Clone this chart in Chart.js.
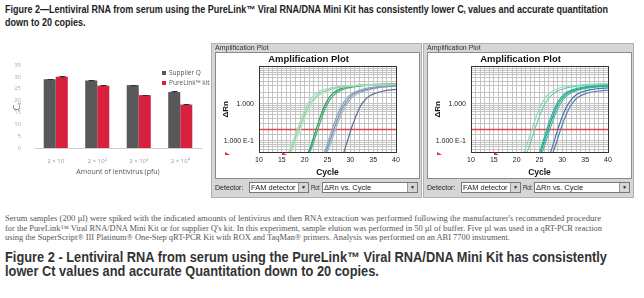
<!DOCTYPE html>
<html>
<head>
<meta charset="utf-8">
<script src="https://cdn.jsdelivr.net/npm/chart.js@4.4.1/dist/chart.umd.min.js"></script>
<style>
	html, body { margin: 0; padding: 0; background: #fff; }
	body { position: relative; width: 644px; height: 298px; overflow: hidden; font-family: "Liberation Sans", Arial, sans-serif; }
	.abs { position: absolute; }
	.ln { display: block; white-space: nowrap; transform-origin: 0 0; width: max-content; }
	#figTitle { left: 5px; top: 3px; font: bold 10px/13px "Liberation Sans", sans-serif; color: #222; }
	#figTitle sub { font-size: 6px; vertical-align: -1px; line-height: 0; }
	#barCanvas { left: 0; top: 40px; }
	.legend { font: 6.5px "Open Sans", sans-serif; color: #555; white-space: nowrap; }
	.legend i { display: inline-block; width: 4px; height: 4px; margin-right: 3px; vertical-align: 0; }
	.panel { top: 43px; width: 211px; height: 155px; background: #d6d6d6; border: 1px solid #b0b0b0; box-sizing: border-box; }
	.panel .gb { position: absolute; left: 3px; top: 0; font: 7px Arial, "Liberation Sans", sans-serif; color: #333; }
	.panel .plotbox { position: absolute; left: 3px; top: 8px; width: 203px; height: 125px; border: 1px solid #8a8a8a; background: #fff; }
	.panel canvas { display: block; }
	.ctrl span { position: absolute; top: 138px; height: 11px; font: 7px/11px Arial, "Liberation Sans", sans-serif; color: #222; white-space: nowrap; overflow: hidden; }
	.ctrl .narrow { transform: scaleX(0.68); transform-origin: 0 0; overflow: visible; }
	.ctrl .sel { background: #fff; border: 1px solid #777; box-sizing: border-box; padding-left: 1px; line-height: 9px; font-size: 7.5px; }
	.ctrl .sel b { position: absolute; right: 0; top: 0; width: 9px; height: 9px; background: #d6d6d6; border-left: 1px solid #999; font: 5px/9px Arial, sans-serif; text-align: center; font-weight: normal; }
	.tri { width: 0; height: 0; border-left: 5px solid #e03030; border-top: 3px solid transparent; }
	#methods { left: 5px; top: 214px; font: 8.3px/9.6px "Liberation Serif", "DejaVu Serif", serif; color: #555; }
	#caption { left: 5px; top: 250px; font: bold 14px/14px "Liberation Sans", sans-serif; color: #333; }
</style>
</head>
<body>

<div id="figTitle" class="abs">
	<span class="ln" data-w="603">Figure 2—Lentiviral RNA from serum using the PureLink™ Viral RNA/DNA Mini Kit has consistently lower C<sub>t</sub> values and accurate quantitation</span>
	<span class="ln" data-ref="0">down to 20 copies.</span>
</div>

<canvas id="barCanvas" class="abs" width="210" height="150"></canvas>
<div class="abs legend" style="left:162px;top:68px"><i style="background:#58585a"></i>Supplier Q</div>
<div class="abs legend" style="left:162px;top:78px"><i style="background:#d7203e"></i>PureLink™ kit</div>

<div class="abs panel" style="left:211px">
	<div class="gb">Amplification Plot</div>
	<div class="plotbox"><canvas id="amp1" width="203" height="125"></canvas></div>
	<div class="ctrl">
		<span style="left:3px">Detector:</span>
		<span class="sel" style="left:37px;width:60px">FAM detector<b>▼</b></span>
		<span class="narrow" style="left:99px">Plot:</span>
		<span class="sel" style="left:110px;width:96px">ΔRn vs. Cycle<b>▼</b></span>
	</div>
</div>
<div class="abs tri" style="left:225px;top:152px"></div>
<div class="abs tri" style="left:282px;top:152px"></div>

<div class="abs panel" style="left:423px">
	<div class="gb">Amplification Plot</div>
	<div class="plotbox"><canvas id="amp2" width="203" height="125"></canvas></div>
	<div class="ctrl">
		<span style="left:3px">Detector:</span>
		<span class="sel" style="left:37px;width:60px">FAM detector<b>▼</b></span>
		<span class="narrow" style="left:99px">Plot:</span>
		<span class="sel" style="left:110px;width:96px">ΔRn vs. Cycle<b>▼</b></span>
	</div>
</div>
<div class="abs tri" style="left:437px;top:152px"></div>
<div class="abs tri" style="left:494px;top:152px"></div>

<div id="methods" class="abs">
	<span class="ln" data-w="596">Serum samples (200 µl) were spiked with the indicated amounts of lentivirus and then RNA extraction was performed following the manufacturer's recommended procedure</span>
	<span class="ln" data-w="597">for the PureLink™ Viral RNA/DNA Mini Kit or for supplier Q's kit. In this experiment, sample elution was performed in 50 µl of buffer. Five µl was used in a qRT-PCR reaction</span>
	<span class="ln" data-ref="1">using the SuperScript® III Platinum® One-Step qRT-PCR Kit with ROX and TaqMan® primers. Analysis was performed on an ABI 7700 instrument.</span>
</div>

<div id="caption" class="abs">
	<span class="ln" data-w="602">Figure 2 - Lentiviral RNA from serum using the PureLink™ Viral RNA/DNA Mini Kit has consistently</span>
	<span class="ln" data-ref="0">lower Ct values and accurate Quantitation down to 20 copies.</span>
</div>

<script>
/* bar chart data: Ct per lentivirus amount */
const doseLabels = ['2 × 10', '2 × 10²', '2 × 10³', '2 × 10⁴'];
const supplierQ = [29.0, 28.5, 26.5, 23.6];
const pureLink = [30.0, 26.3, 22.3, 18.3];
const supplierQErr = [0.3, 0.2, 0.2, 0.5];
const pureLinkErr = [0.3, 0.3, 0.2, 0.3];

/* amplification curves: [cycle, delta Rn] */
const threshold = 0.2;
const cycleRange = [10, 40];

const plot1Curves = [
	[[16, 0.035], [17, 0.07], [18, 0.15], [19, 0.32], [20, 0.68], [21, 1.15], [22, 1.65], [23, 2.05], [24, 2.35], [26, 2.7], [28, 2.9], [31, 3.1], [35, 3.25], [40, 3.35]],
	[[16.3, 0.035], [17.3, 0.07], [18.3, 0.15], [19.3, 0.31], [20.3, 0.62], [21.3, 1.05], [22.3, 1.5], [23.3, 1.9], [24.5, 2.2], [26, 2.5], [28, 2.8], [31, 3.05], [35, 3.2], [40, 3.3]],
	[[16.6, 0.035], [17.6, 0.068], [18.6, 0.14], [19.6, 0.3], [20.6, 0.6], [21.6, 1.0], [22.6, 1.45], [23.6, 1.8], [25, 2.2], [27, 2.6], [30, 2.95], [34, 3.15], [40, 3.3]],
	[[20.3, 0.035], [21.3, 0.07], [22.3, 0.17], [23.3, 0.4], [24.3, 0.85], [25.3, 1.4], [26.3, 1.95], [27.3, 2.35], [28.5, 2.65], [30, 2.9], [33, 3.15], [36, 3.3], [40, 3.45]],
	[[20.6, 0.035], [21.6, 0.07], [22.6, 0.16], [23.6, 0.37], [24.6, 0.8], [25.6, 1.3], [26.6, 1.8], [27.6, 2.2], [29, 2.55], [31, 2.85], [34, 3.1], [37, 3.25], [40, 3.35]],
	[[23.8, 0.035], [24.8, 0.07], [25.8, 0.17], [26.8, 0.38], [27.8, 0.75], [28.8, 1.2], [29.8, 1.65], [31, 2.05], [32.5, 2.4], [34, 2.65], [36, 2.85], [38, 3.0], [40, 3.1]],
	[[24.1, 0.035], [25.1, 0.07], [26.1, 0.16], [27.1, 0.35], [28.1, 0.7], [29.1, 1.1], [30.1, 1.55], [31.3, 1.95], [33, 2.3], [35, 2.6], [37, 2.8], [40, 3.0]],
	[[24.4, 0.035], [25.4, 0.068], [26.4, 0.15], [27.4, 0.33], [28.4, 0.65], [29.4, 1.05], [30.4, 1.45], [31.6, 1.85], [33.2, 2.2], [35, 2.5], [37, 2.75], [40, 2.95]],
	[[28.2, 0.035], [29.2, 0.085], [30.2, 0.21], [31.2, 0.45], [32.2, 0.85], [33.2, 1.25], [34.2, 1.6], [35.5, 1.9], [37, 2.15], [38.5, 2.3], [40, 2.4]],
];
const plot1Colors = ['#a3dcb5', '#8ed3a8', '#b8e5c6', '#2e9e63', '#3fab74', '#8fa5bd', '#7b93b0', '#a4b5ca', '#5c6d98'];

const plot2Curves = [
	[[21.3, 0.035], [22.3, 0.085], [23.3, 0.2], [24.3, 0.45], [25.3, 0.9], [26.3, 1.45], [27.3, 1.95], [28.5, 2.4], [30, 2.75], [32, 3.0], [35, 3.25], [40, 3.45]],
	[[21.9, 0.035], [22.9, 0.08], [23.9, 0.19], [24.9, 0.42], [25.9, 0.85], [26.9, 1.35], [27.9, 1.8], [29, 2.2], [30.5, 2.55], [32.5, 2.85], [35.5, 3.1], [40, 3.35]],
	[[24.7, 0.035], [25.7, 0.09], [26.7, 0.22], [27.7, 0.5], [28.7, 0.95], [29.7, 1.45], [30.7, 1.9], [32, 2.3], [33.5, 2.6], [35.5, 2.85], [38, 3.05], [40, 3.15]],
	[[24.9, 0.035], [25.9, 0.085], [26.9, 0.2], [27.9, 0.45], [28.9, 0.88], [29.9, 1.35], [30.9, 1.8], [32.2, 2.2], [34, 2.55], [36, 2.8], [38, 2.95], [40, 3.05]],
	[[25.2, 0.035], [26.2, 0.08], [27.2, 0.19], [28.2, 0.42], [29.2, 0.82], [30.2, 1.28], [31.2, 1.7], [32.5, 2.1], [34.3, 2.45], [36.3, 2.7], [38.3, 2.85], [40, 2.95]],
	[[27.0, 0.035], [28.0, 0.08], [29.0, 0.2], [30.0, 0.45], [31.0, 0.85], [32.0, 1.3], [33.0, 1.7], [34.3, 2.05], [36, 2.35], [38, 2.55], [40, 2.65]],
	[[27.5, 0.035], [28.5, 0.075], [29.5, 0.18], [30.5, 0.4], [31.5, 0.75], [32.5, 1.15], [33.5, 1.5], [34.8, 1.8], [36.5, 2.05], [38.3, 2.2], [40, 2.3]],
];
const plot2Colors = ['#93d8b8', '#6fcaa8', '#2fb39a', '#22a38f', '#4ab8aa', '#3d74a6', '#5a7db0'];

/* squeeze text lines to the widths they have in the figure */
function fitLines(box) {
	const lines = Array.from(box.querySelectorAll('.ln'));
	const scales = lines.map(el => (el.dataset.w ? +el.dataset.w / el.getBoundingClientRect().width : 1));
	lines.forEach((el, i) => {
		const s = el.dataset.ref !== undefined ? scales[+el.dataset.ref] : scales[i];
		el.style.transform = `scaleX(${s})`;
	});
}
['figTitle', 'methods', 'caption'].forEach(id => fitLines(document.getElementById(id)));

/* error bars drawn through the bar chart's own y scale */
const errorBars = {
	id: 'errorBars',
	afterDatasetsDraw(chart) {
		const { ctx } = chart;
		const y = chart.scales.y;
		const errs = [supplierQErr, pureLinkErr];
		ctx.save();
		ctx.strokeStyle = '#333';
		ctx.lineWidth = 1;
		chart.data.datasets.forEach((ds, i) => {
			chart.getDatasetMeta(i).data.forEach((bar, j) => {
				const v = ds.data[j];
				const e = errs[i][j];
				const top = Math.round(y.getPixelForValue(v + e)) + 0.5;
				const bot = Math.round(y.getPixelForValue(v - e)) + 0.5;
				const x = Math.round(bar.x) + 0.5;
				ctx.beginPath();
				ctx.moveTo(x, top);
				ctx.lineTo(x, bot);
				ctx.moveTo(x - 3, top);
				ctx.lineTo(x + 3, top);
				ctx.stroke();
			});
		});
		ctx.restore();
	},
};

new Chart(document.getElementById('barCanvas'), {
	type: 'bar',
	data: {
		labels: doseLabels,
		datasets: [
			{ label: 'Supplier Q', data: supplierQ, backgroundColor: '#58585a' },
			{ label: 'PureLink™ kit', data: pureLink, backgroundColor: '#d7203e' },
		],
	},
	options: {
		responsive: false,
		animation: false,
		layout: { padding: { top: 25, right: 9, bottom: 10, left: 12 } },
		categoryPercentage: 0.58,
		barPercentage: 1.0,
		plugins: { legend: { display: false }, tooltip: { enabled: false } },
		scales: {
			x: {
				grid: { display: false },
				border: { display: true, color: '#d0d0d0' },
				ticks: { color: '#999', font: { size: 6, family: 'Open Sans' }, padding: 2 },
				title: { display: true, text: 'Amount of lentivirus (pfu)', color: '#555', font: { size: 7, family: 'Open Sans' }, padding: { top: 3 } },
				afterFit(scale) { scale.height = 32; },
			},
			y: {
				min: 0,
				max: 35,
				grid: { display: false },
				border: { display: false },
				ticks: { stepSize: 5, color: '#aaa', font: { size: 6, family: 'Open Sans' }, padding: 6 },
				title: { display: true, text: 'Cₜ', color: '#666', font: { size: 9, family: 'Open Sans' }, padding: 0 },
				afterFit(scale) { scale.width = 23; },
			},
		},
	},
	plugins: [errorBars],
});

/* frame around the plotting area */
const plotFrame = {
	id: 'plotFrame',
	afterDraw(chart) {
		const { ctx, chartArea: a } = chart;
		ctx.save();
		ctx.strokeStyle = '#333';
		ctx.lineWidth = 1;
		ctx.strokeRect(Math.round(a.left) + 0.5, Math.round(a.top) + 0.5, Math.round(a.right - a.left), Math.round(a.bottom - a.top));
		ctx.restore();
	},
};

function ampChart(id, curves, colors) {
	const datasets = curves.map((pts, i) => ({
		data: pts.map(p => ({ x: p[0], y: p[1] })),
		borderColor: colors[i],
		borderWidth: 1.2,
		pointRadius: 0,
		cubicInterpolationMode: 'monotone',
		fill: false,
	}));
	datasets.push({
		data: [{ x: cycleRange[0], y: threshold }, { x: cycleRange[1], y: threshold }],
		borderColor: '#e0484c',
		borderWidth: 1.5,
		pointRadius: 0,
	});
	return new Chart(document.getElementById(id), {
		type: 'line',
		data: { datasets },
		options: {
			responsive: false,
			animation: false,
			layout: { padding: { top: 0, right: 23, bottom: 0, left: 5 } },
			plugins: {
				legend: { display: false },
				tooltip: { enabled: false },
				title: {
					display: true,
					text: 'Amplification Plot',
					color: '#111',
					font: { size: 9.5, weight: 'bold', family: 'Arial' },
					padding: { top: 1, bottom: 1 },
				},
			},
			scales: {
				x: {
					type: 'linear',
					min: cycleRange[0],
					max: cycleRange[1],
					grid: { color: '#c4c4c4', drawTicks: false },
					border: { display: false },
					ticks: {
						stepSize: 1,
						autoSkip: false,
						maxRotation: 0,
						padding: 4,
						color: '#222',
						font: { size: 7, family: 'Arial' },
						callback: v => (v % 5 === 0 ? v : ''),
					},
					title: { display: true, text: 'Cycle', color: '#111', font: { size: 8.5, weight: 'bold', family: 'Arial' }, padding: 0 },
					afterFit(scale) { scale.height = 26; },
				},
				y: {
					type: 'logarithmic',
					min: 0.05,
					max: 10,
					grid: { color: '#c4c4c4', drawTicks: false },
					border: { display: false },
					ticks: {
						autoSkip: false,
						padding: 5,
						color: '#222',
						font: { size: 7, family: 'Arial' },
						callback: v => (Math.abs(v - 1) < 1e-9 ? '1.000' : Math.abs(v - 0.1) < 1e-9 ? '1.000 E-1' : ''),
					},
					title: { display: true, text: 'ΔRn', color: '#111', font: { size: 8, weight: 'bold', family: 'Arial' }, padding: 0 },
					afterFit(scale) { scale.width = 38; },
				},
			},
		},
		plugins: [plotFrame],
	});
}

ampChart('amp1', plot1Curves, plot1Colors);
ampChart('amp2', plot2Curves, plot2Colors);
</script>
</body>
</html>
